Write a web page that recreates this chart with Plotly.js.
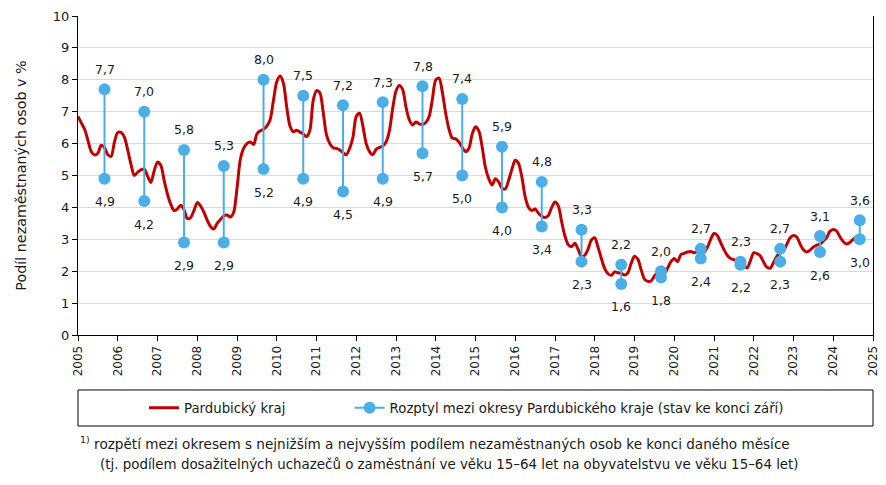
<!DOCTYPE html>
<html>
<head>
<meta charset="utf-8">
<script src="https://cdn.plot.ly/plotly-3.0.1.min.js"></script>
<style>html,body{margin:0;padding:0;background:#fff}#chart{width:886px;height:485px}</style>
</head>
<body>
<div id="chart"></div>
<script>
// Monthly share of unemployed persons, Pardubický kraj, Jan 2005 – Sep 2024 (%)
const startYear = 2005;
const pardubickyKraj = [
  6.85,6.65,6.45,6.10,5.75,5.64,5.70,5.95,5.87,5.65,5.60,6.05,
  6.35,6.35,6.20,5.80,5.35,5.00,5.10,5.18,5.20,4.98,4.78,5.15,
  5.42,5.32,4.85,4.42,4.10,3.90,3.95,4.07,3.93,3.65,3.68,3.90,
  4.15,4.05,3.85,3.60,3.40,3.32,3.50,3.62,3.73,3.76,3.70,3.85,
  4.60,5.50,5.85,6.00,6.05,5.97,6.30,6.40,6.45,6.55,6.75,7.35,
  7.94,8.12,7.90,7.15,6.55,6.37,6.42,6.36,6.30,6.22,6.42,7.35,
  7.66,7.60,7.00,6.28,6.00,5.87,5.85,5.80,5.72,5.65,5.85,6.20,
  6.85,6.95,6.55,6.00,5.75,5.65,5.82,5.88,5.92,6.05,6.40,7.10,
  7.65,7.82,7.70,7.15,6.75,6.58,6.68,6.62,6.60,6.66,6.85,7.40,
  8.00,8.05,7.60,6.95,6.45,6.17,6.15,6.05,5.88,5.75,5.85,6.30,
  6.53,6.40,5.90,5.25,4.90,4.70,4.90,4.80,4.60,4.58,4.85,5.20,
  5.48,5.38,4.95,4.33,4.00,3.90,3.95,3.82,3.72,3.68,3.75,4.00,
  4.17,4.05,3.55,3.10,2.83,2.77,2.88,2.68,2.46,2.50,2.70,2.98,
  3.05,2.75,2.40,2.08,1.92,1.87,1.98,1.95,1.93,1.88,1.95,2.25,
  2.47,2.38,2.05,1.75,1.68,1.69,1.85,1.95,1.97,1.92,2.10,2.30,
  2.40,2.30,2.52,2.56,2.60,2.62,2.58,2.62,2.60,2.60,2.75,3.00,
  3.18,3.12,2.90,2.68,2.50,2.40,2.36,2.33,2.30,2.18,2.10,2.33,
  2.58,2.55,2.48,2.28,2.12,2.10,2.28,2.47,2.58,2.65,2.85,3.05,
  3.12,3.07,2.85,2.67,2.60,2.66,2.76,2.82,2.85,2.95,3.05,3.25,
  3.31,3.26,3.08,2.93,2.85,2.90,3.00,3.07,3.10
];
// District range at end of September each year
const rangeYears = [2005,2006,2007,2008,2009,2010,2011,2012,2013,2014,2015,2016,2017,2018,2019,2020,2021,2022,2023,2024];
const rangeMax = [7.7,7.0,5.8,5.3,8.0,7.5,7.2,7.3,7.8,7.4,5.9,4.8,3.3,2.2,2.0,2.7,2.3,2.7,3.1,3.6];
const rangeMin = [4.9,4.2,2.9,2.9,5.2,4.9,4.5,4.9,5.7,5.0,4.0,3.4,2.3,1.6,1.8,2.4,2.2,2.3,2.6,3.0];
const septemberIndex = 8; // months after January
const yearTicks = [];
for (let y = 2005; y <= 2025; y++) yearTicks.push(y);

const FONT = "DejaVu Sans, sans-serif";
const RED = "#C00000";
const BLUE = "#4BAEE6";
const TXT = "#1a1a1a";

const lineX = pardubickyKraj.map((v, i) => startYear + i / 12);

const rx = [], ry = [];
rangeYears.forEach((yr, i) => {
  const x = yr + septemberIndex / 12;
  rx.push(x, x, null);
  ry.push(rangeMin[i], rangeMax[i], null);
});

const fmt = v => v.toFixed(1).replace('.', ',');

const annotations = [];
rangeYears.forEach((yr, i) => {
  const x = yr + septemberIndex / 12;
  annotations.push({x: x, y: rangeMax[i], xref: 'x', yref: 'y', text: fmt(rangeMax[i]), showarrow: false, yshift: 20, font: {family: FONT, size: 12.5, color: TXT}});
  annotations.push({x: x, y: rangeMin[i], xref: 'x', yref: 'y', text: fmt(rangeMin[i]), showarrow: false, yshift: -23, font: {family: FONT, size: 12.5, color: TXT}});
});
annotations.push({xref: 'paper', yref: 'paper', x: 0.0, y: -0.3386, xanchor: 'left', yanchor: 'middle', showarrow: false, align: 'left',
  text: '<sup>1)</sup> rozpětí mezi okresem s nejnižším a nejvyšším podílem nezaměstnaných osob ke konci daného měsíce',
  font: {family: FONT, size: 13.6, color: TXT}});
annotations.push({xref: 'paper', yref: 'paper', x: 0.025, y: -0.4075, xanchor: 'left', yanchor: 'middle', showarrow: false, align: 'left',
  text: '(tj. podílem dosažitelných uchazečů o zaměstnání ve věku 15–64 let na obyvatelstvu ve věku 15–64 let)',
  font: {family: FONT, size: 13.4, color: TXT}});

const pad = '\u00a0'.repeat(14);
const traces = [
  {x: lineX, y: pardubickyKraj, type: 'scatter', mode: 'lines', name: 'Pardubický kraj' + pad,
   line: {color: RED, width: 3, shape: 'spline', smoothing: 0.8}, hoverinfo: 'skip'},
  {x: rx, y: ry, type: 'scatter', mode: 'lines+markers', name: 'Rozptyl mezi okresy Pardubického kraje (stav ke konci září)',
   line: {color: BLUE, width: 2}, marker: {color: BLUE, size: 12}, connectgaps: false, hoverinfo: 'skip'}
];

const layout = {
  width: 886, height: 485,
  margin: {l: 78, r: 13, t: 16, b: 150},
  paper_bgcolor: '#fff', plot_bgcolor: '#fff',
  font: {family: FONT, size: 12, color: TXT},
  showlegend: true,
  legend: {orientation: 'h', x: 0.083, y: -0.229, xanchor: 'left', yanchor: 'middle',
           font: {family: FONT, size: 13.3, color: TXT}, bgcolor: 'rgba(0,0,0,0)', borderwidth: 0,
           traceorder: 'normal'},
  xaxis: {range: [2005, 2025], tickvals: yearTicks, ticktext: yearTicks.map(String), tickangle: -90,
          showgrid: false, zeroline: false, showline: true, linecolor: '#000', linewidth: 1,
          ticks: 'outside', ticklen: 5, tickcolor: '#000', tickfont: {family: FONT, size: 12, color: TXT}},
  yaxis: {range: [0, 10], dtick: 1, showgrid: true, gridcolor: '#d9d9d9', gridwidth: 1, zeroline: false,
          showline: true, linecolor: '#000', linewidth: 1, mirror: true,
          ticks: 'outside', ticklen: 5, tickcolor: '#000', tickfont: {family: FONT, size: 13, color: TXT}},
  shapes: [{type: 'rect', xref: 'paper', yref: 'paper', x0: 0, x1: 1, y0: -0.1724, y1: -0.2853,
            line: {color: '#000', width: 1}, fillcolor: 'rgba(0,0,0,0)'}],
  annotations: annotations
};
layout.yaxis.title = {text: 'Podíl nezaměstnaných osob v %', font: {family: FONT, size: 14.3, color: TXT}, standoff: 22};

Plotly.newPlot('chart', traces, layout, {displayModeBar: false, staticPlot: true});
</script>
</body>
</html>
